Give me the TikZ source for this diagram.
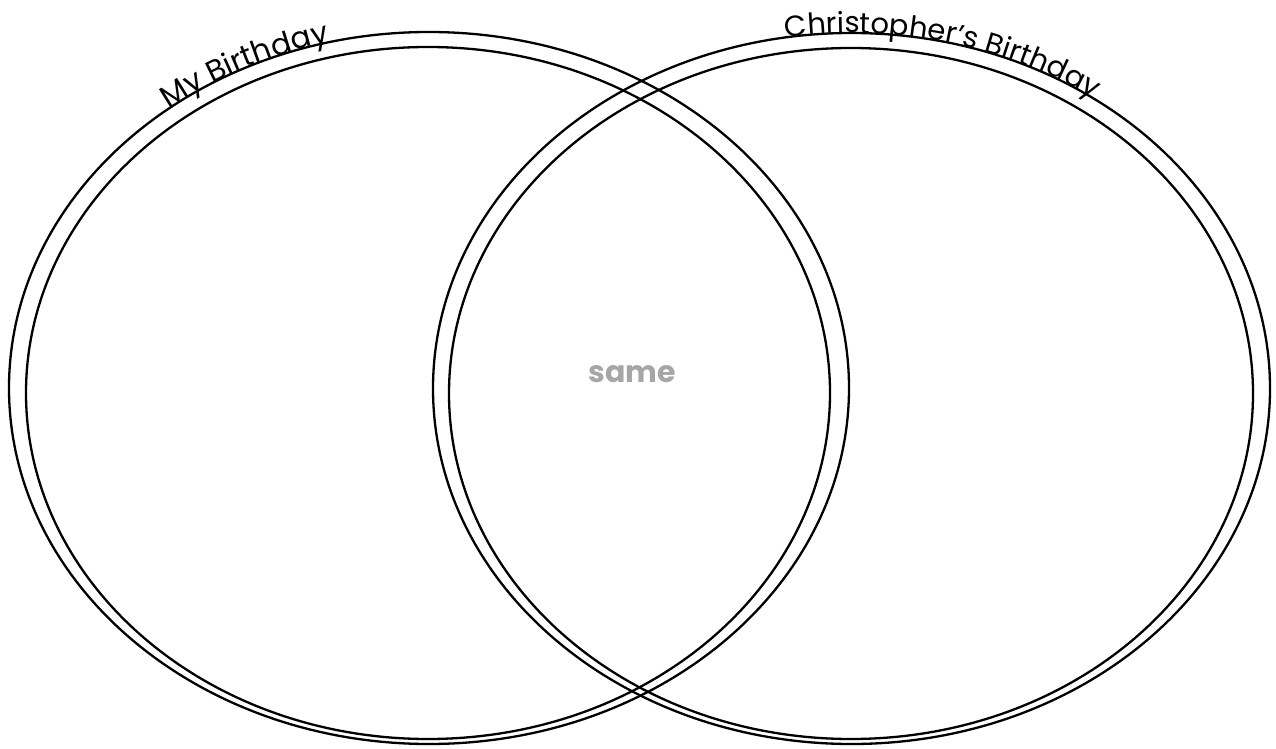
\documentclass[tikz,border=0pt]{standalone}
\usepackage{fontspec}
\setmainfont{Poppins}
\usetikzlibrary{decorations.text,calc}
\definecolor{samegray}{HTML}{A6A6A6}
\tikzset{
  ring/.style={draw=black, line width=2.3pt},
  arclabel/.style={decorate, decoration={text along path, text align=center, raise=0pt, text={#1}}}
}
\begin{document}
\begin{tikzpicture}[x=1pt,y=1pt]
\useasboundingbox (0,0) rectangle (1276,748);
\fill[white] (0,0) rectangle (1276,748);
\coordinate (lo) at (429,360);
\coordinate (li) at (428,355);
\coordinate (ro) at (851.5,359.5);
\coordinate (ri) at (851,354.5);
\draw[ring] (lo) ellipse [x radius=420, y radius=356];
\draw[ring] (li) ellipse [x radius=402, y radius=346];
\draw[ring] (ro) ellipse [x radius=418.5, y radius=355.5];
\draw[ring] (ri) ellipse [x radius=402, y radius=345.5];
\path[arclabel={|\fontsize{30}{34}\selectfont|My Birthday}]
  ($(lo)+(151.5:420 and 356)$) arc[start angle=151.5, end angle=82.5, x radius=420, y radius=356];
\path[arclabel={|\fontsize{29}{33}\selectfont|Christopher’s Birthday}]
  ($(ro)+(111:418.5 and 355.5)$) arc[start angle=111, end angle=42, x radius=418.5, y radius=355.5];
\node[anchor=base, text=samegray, font=\fontsize{30}{34}\selectfont\bfseries] (same) at (632,366) {same};
\end{tikzpicture}
\end{document}
